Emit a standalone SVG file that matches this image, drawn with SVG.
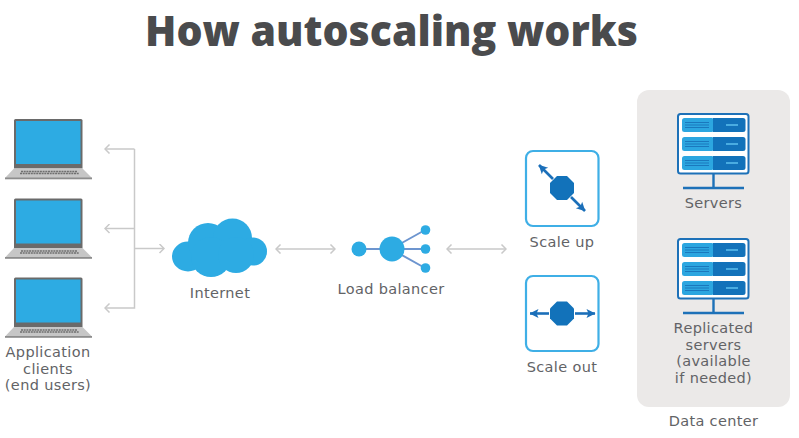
<svg xmlns="http://www.w3.org/2000/svg" width="799" height="438" viewBox="0 0 799 438">
<style>
text{font-family:"DejaVu Sans","Liberation Sans",sans-serif;font-size:14.5px;letter-spacing:.35px;fill:#626366;text-anchor:middle}
.title{font-family:"Open Sans","Noto Sans",sans-serif;font-size:42px;font-weight:800;letter-spacing:0;fill:#4a4b4d}
.con{fill:none;stroke:#c9c9c9;stroke-width:1.5}
.head{fill:none;stroke:#c9c9c9;stroke-width:1.5}
.lb{stroke:#6d95cf;stroke-width:2}
.dot{fill:#2dabe3}
.scale{fill:#fff;stroke:#3fafe6;stroke-width:2.2}
.oct{fill:#1272ba}
.sc{stroke:#1b6fb9;stroke-width:2.6;fill:none}
</style>
<defs>
<marker id="open" viewBox="0 0 10 10" refX="9" refY="5" markerWidth="10" markerHeight="10" markerUnits="userSpaceOnUse" orient="auto-start-reverse"><path d="M4.500 0.500L9 5L4.500 9.500" class="head"/></marker>
<marker id="solid" viewBox="0 0 10 10" refX="9.500" refY="5" markerWidth="10" markerHeight="10" markerUnits="userSpaceOnUse" orient="auto-start-reverse"><path d="M1 0.500L10 5L1 9.500L3 5Z" fill="#1b6fb9"/></marker>
<g id="laptop">
<path d="M14 120.500Q14 119 15.500 119H81Q82.500 119 82.500 120.500V168.500H14Z" fill="#6a6a6a"/>
<rect x="16" y="121" width="64.500" height="43" fill="#2dabe3"/>
<path d="M14 168.500H82.500L92 178H5Z" fill="#c6c6c6"/>
<rect x="5" y="177.500" width="87" height="1.800" fill="#8d8d8d"/>
<path d="M21 171.500H77M20 173.500H79" stroke="#6f6f6f" stroke-width="1.500" stroke-dasharray="2 .7"/>
</g>
<g id="server">
<rect x="678" y="114" width="70.500" height="59.500" rx="2.500" fill="#fff" stroke="#1d71b8" stroke-width="2"/>
<g id="row"><rect x="682" y="118" width="32" height="14" rx="2.500" fill="#2ca6e0"/><path d="M713 118h30q2.500 0 2.500 2.500v9q0 2.500-2.500 2.500h-30z" fill="#1272ba"/>
<path d="M685 122.500h24M685 125h24M685 127.500h24" stroke="#1a78bd" stroke-width="1"/><path d="M726 125h12" stroke="#5cc0ee" stroke-width="1.500"/></g>
<use href="#row" y="19"/><use href="#row" y="38"/>
<path d="M713.500 174V188M683 188H744" stroke="#1d71b8" stroke-width="2.400" fill="none"/>
</g>
<polygon id="octagon" points="-5,-12 5,-12 12,-5 12,5 5,12 -5,12 -12,5 -12,-5" class="oct"/>
</defs>
<text x="391.500" y="46" class="title" textLength="493" lengthAdjust="spacingAndGlyphs">How autoscaling works</text>
<rect id="bg" x="637" y="90" width="153" height="317" rx="12" fill="#ebe9e8"/>
<g id="connectors">
<path class="con" marker-end="url(#open)" d="M134.500 149H105"/>
<path class="con" marker-end="url(#open)" d="M134.500 228.500H105"/>
<path class="con" marker-end="url(#open)" d="M134.500 149V308H105"/>
<path class="con" marker-end="url(#open)" d="M134.500 248.500H164"/>
<path class="con" marker-start="url(#open)" marker-end="url(#open)" d="M276 249H335"/>
<path class="con" marker-start="url(#open)" marker-end="url(#open)" d="M447 249H506"/>
</g>
<g id="clients"><use href="#laptop"/><use href="#laptop" y="79.500"/><use href="#laptop" y="158.500"/>
<text x="48" y="357">Application</text><text x="48" y="373.500">clients</text><text x="48" y="390">(end users)</text></g>
<g id="internet"><g class="dot"><ellipse cx="188" cy="256.500" rx="16" ry="15"/><circle cx="208" cy="243" r="20"/><circle cx="232.500" cy="238" r="19.500"/><circle cx="253" cy="251.500" r="14"/><circle cx="211" cy="257" r="20"/><circle cx="236" cy="255" r="18"/></g>
<text x="220" y="298">Internet</text></g>
<g id="load-balancer">
<path class="lb" d="M359 249H425M391 249L425 230M391 249L425 268"/>
<circle class="dot" cx="359" cy="249" r="7.500"/><circle class="dot" cx="392" cy="249" r="12.500"/>
<circle class="dot" cx="425.500" cy="230" r="4.800"/><circle class="dot" cx="425.500" cy="249" r="4.800"/><circle class="dot" cx="425.500" cy="268" r="4.800"/>
<text x="391" y="294">Load balancer</text></g>
<g id="scale-up"><rect class="scale" x="526" y="151" width="72.500" height="75" rx="7"/>
<use href="#octagon" x="562" y="188"/>
<path class="sc" marker-end="url(#solid)" d="M553 179L539 165"/><path class="sc" marker-end="url(#solid)" d="M571 197L585 211"/>
<text x="562" y="247">Scale up</text></g>
<g id="scale-out"><rect class="scale" x="526" y="276" width="72.500" height="75" rx="7"/>
<use href="#octagon" x="562" y="313.500"/>
<path class="sc" marker-end="url(#solid)" d="M549 313.500H530"/><path class="sc" marker-end="url(#solid)" d="M575 313.500H595"/>
<text x="562" y="372">Scale out</text></g>
<g id="servers"><use href="#server"/><text x="713.500" y="208">Servers</text></g>
<g id="replicated"><use href="#server" y="125"/>
<text x="713.500" y="333">Replicated</text><text x="713.500" y="350">servers</text><text x="713.500" y="366">(available</text><text x="713.500" y="383">if needed)</text></g>
<g id="data-center"><text x="713.500" y="426">Data center</text></g>
</svg>
